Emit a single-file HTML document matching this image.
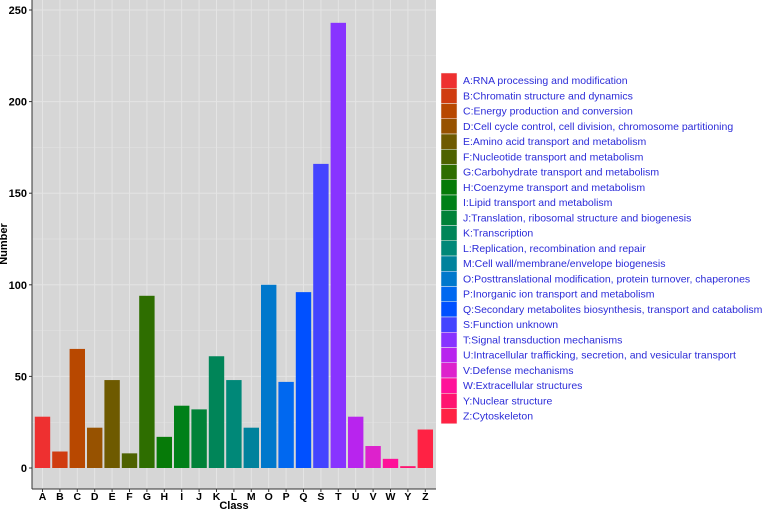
<!DOCTYPE html>
<html><head><meta charset="utf-8"><style>
body{margin:0;background:#fff;font-family:"Liberation Sans",sans-serif;}
</style></head><body>
<svg width="769" height="512" xmlns="http://www.w3.org/2000/svg">
<rect x="32" y="0" width="404" height="489" fill="#d6d6d6"/>
<g id="grid"></g><g id="bars"></g><g id="axes"></g><g id="legend"></g>
<text x="7" y="244" transform="rotate(-90 7 244)" text-anchor="middle" font-size="11" font-weight="bold">Number</text>
<text x="234" y="509" text-anchor="middle" font-size="11" font-weight="bold">Class</text>
</svg>
<script>
const categories=["A","B","C","D","E","F","G","H","I","J","K","L","M","O","P","Q","S","T","U","V","W","Y","Z"];
const values=[28,9,65,22,48,8,94,17,34,32,61,48,22,100,47,96,166,243,28,12,5,1,21];
const colors=["#EE3030","#D03C10","#B84800","#975200","#6E5A00","#4E6200","#2E6E00","#067A08","#008018","#008238","#008558","#008878","#00829C","#0078CC","#0068F0","#0050FF","#4444FF","#8833FF","#B824EE","#DD22CC","#FF1199","#FF1470","#FF2244"];
const descriptions=["RNA processing and modification","Chromatin structure and dynamics","Energy production and conversion","Cell cycle control, cell division, chromosome partitioning","Amino acid transport and metabolism","Nucleotide transport and metabolism","Carbohydrate transport and metabolism","Coenzyme transport and metabolism","Lipid transport and metabolism","Translation, ribosomal structure and biogenesis","Transcription","Replication, recombination and repair","Cell wall/membrane/envelope biogenesis","Posttranslational modification, protein turnover, chaperones","Inorganic ion transport and metabolism","Secondary metabolites biosynthesis, transport and catabolism","Function unknown","Signal transduction mechanisms","Intracellular trafficking, secretion, and vesicular transport","Defense mechanisms","Extracellular structures","Nuclear structure","Cytoskeleton"];
const yTicks=[0,50,100,150,200,250];
const NS="http://www.w3.org/2000/svg";
const y=v=>468-v*(91.6/50);
const x=i=>42.5+i*17.4;
function mk(t,a,p){const e=document.createElementNS(NS,t);for(const k in a)e.setAttribute(k,a[k]);p.appendChild(e);return e;}
const grid=document.getElementById('grid'),bars=document.getElementById('bars'),axes=document.getElementById('axes'),leg=document.getElementById('legend');
for(let v=25;v<=250;v+=25){const l=mk('line',{x1:32,x2:436,y1:y(v),y2:y(v),stroke:'#e4e4e4','stroke-width':v%50?0.5:1},grid);
}
categories.forEach((c,i)=>{const l=mk('line',{x1:x(i),x2:x(i),y1:0,y2:489,stroke:'#e4e4e4','stroke-width':1},grid);
});
mk('line',{x1:32,x2:32,y1:0,y2:489,stroke:'#333','stroke-width':1},axes);
mk('line',{x1:32,x2:436,y1:489,y2:489,stroke:'#333','stroke-width':1},axes);
yTicks.forEach(v=>{mk('line',{x1:29,x2:32,y1:y(v),y2:y(v),stroke:'#333'},axes);
const t=mk('text',{x:27,y:y(v)+4,'text-anchor':'end','font-size':11,'font-weight':'bold'},axes);t.textContent=v;
});
categories.forEach((c,i)=>{const r=mk('rect',{x:x(i)-7.7,y:y(values[i]),width:15.4,height:468-y(values[i]),fill:colors[i]},bars);

mk('line',{x1:x(i),x2:x(i),y1:489,y2:492,stroke:'#333'},axes);
const t=mk('text',{x:x(i),y:500,'text-anchor':'middle','font-size':10.5,'font-weight':'bold'},axes);t.textContent=c;

const ky=73+i*15.25;
const k=mk('rect',{x:441,y:ky,width:16,height:15.25,fill:colors[i],stroke:'#f2f2f2','stroke-width':0.5},leg);

const lt=mk('text',{x:463,y:ky+11,'font-size':10.5,fill:'#2b2bd8'},leg);lt.textContent=c+':'+descriptions[i];
});
</script>
</body></html>
